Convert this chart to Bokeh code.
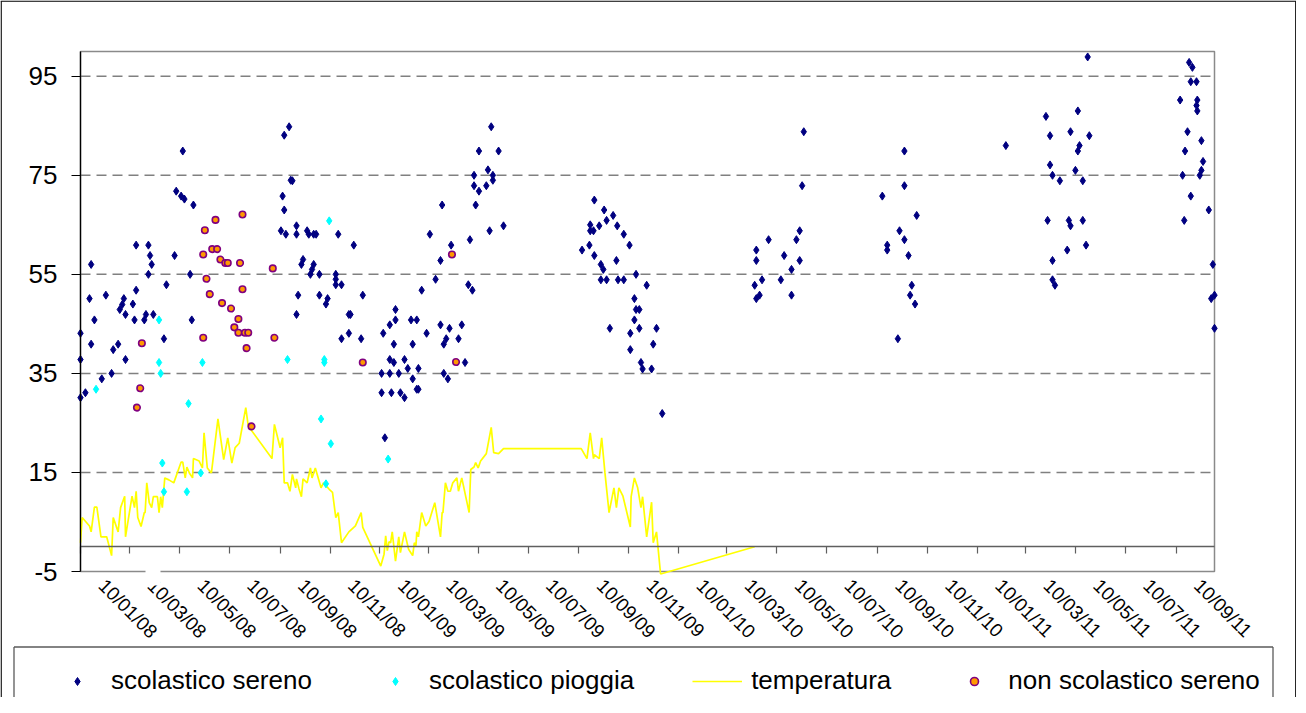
import math
import numpy as np
from bokeh.plotting import figure
from bokeh.models import (Range1d, FixedTicker, LinearAxis, Legend, LegendItem, ColumnDataSource, Grid)
from bokeh.embed import file_html
from bokeh.resources import INLINE

# ---------------- data ----------------
START = "2008-01-10"          # first day of the x axis; x values are days since START
AXIS_END_DAY = 1386           # last day of the x axis
Y_MIN, Y_MAX = -5, 100

tick_dates = ["2008-01-10", "2008-03-10", "2008-05-10", "2008-07-10", "2008-09-10",
              "2008-11-10", "2009-01-10", "2009-03-10", "2009-05-10", "2009-07-10",
              "2009-09-10", "2009-11-10", "2010-01-10", "2010-03-10", "2010-05-10",
              "2010-07-10", "2010-09-10", "2010-11-10", "2011-01-10", "2011-03-10",
              "2011-05-10", "2011-07-10", "2011-09-10"]
tick_labels = ["10/01/08", "10/03/08", "10/05/08", "10/07/08", "10/09/08", "10/11/08",
               "10/01/09", "10/03/09", "10/05/09", "10/07/09", "10/09/09", "10/11/09",
               "10/01/10", "10/03/10", "10/05/10", "10/07/10", "10/09/10", "10/11/10",
               "10/01/11", "10/03/11", "10/05/11", "10/07/11", "10/09/11"]
y_ticks = [-5, 15, 35, 55, 75, 95]

sereno_day = [0, 0, 0, 6, 13, 11, 17, 13, 26, 31, 38, 40, 46, 55, 48, 51, 53, 55, 64, 66,
              68, 68, 83, 85, 87, 83, 78, 80, 89, 105, 102, 115, 125, 117, 123, 127, 138, 134, 136,
              249, 255, 257, 259, 247, 249, 245, 251, 264, 264, 277, 279, 285, 288, 315, 334,
              272, 270, 285, 283, 281, 292, 312, 312, 312, 319, 266, 292, 302, 300, 264, 328,
              330, 328, 319, 343, 345,
              370, 378, 385, 385, 383, 378, 383, 396, 400, 368, 378, 389, 406, 413, 368, 380,
              391, 396, 411, 413, 372, 404, 411, 406, 423, 417, 434, 440, 453, 427, 442, 440,
              451, 447, 444, 462, 466, 444, 449, 470, 474, 479, 476, 500, 517, 483, 481, 487,
              481, 496, 498, 504, 504, 487, 511, 502,
              628, 640, 651, 643, 623, 634, 623, 627, 656, 664, 613, 622, 628, 671, 636, 639,
              636, 643, 655, 657, 664, 679, 692, 677, 679, 683, 677, 647, 672, 683, 704, 700,
              672, 685, 687, 698, 711,
              826, 841, 826, 824, 833, 826, 830, 856, 860, 869, 869, 875, 879, 879, 882, 884,
              980, 1007, 1007, 1022, 1001, 1007, 986, 986, 1012, 1016, 1014, 1020, 999,
              1131,
              1180, 1185, 1219, 1210, 1233, 1221, 1219, 1185, 1188, 1197, 1216, 1225, 1182, 1208,
              1210, 1225, 1206, 1229, 1188, 1188, 1191, 1231,
              1355, 1359, 1357, 1364, 1344, 1365, 1364, 1365, 1353, 1370, 1350, 1372, 1370, 1347,
              1368, 1357, 1379, 1349, 1384, 1382, 1386, 1386]
sereno_val = [43.1, 37.8, 30.1, 31.1, 57.0, 50.1, 45.8, 40.9, 33.9, 50.8, 35.0, 39.8, 40.9, 37.8,
              47.9, 48.9, 50.1, 46.9, 49.0, 45.8, 51.8, 60.9, 60.9, 58.8, 57.0, 55.0, 45.8, 46.9,
              46.9, 52.9, 42.0, 58.8, 79.9, 71.8, 70.8, 70.2, 69.0, 55.0, 45.8,
              83.1, 84.8, 74.0, 73.9, 70.8, 68.0, 63.8, 63.1, 64.8, 63.1, 63.8, 63.1, 63.1, 63.1,
              63.1, 60.9, 58.0, 57.0, 57.0, 56.0, 55.0, 55.0, 55.0, 54.0, 52.9, 52.9, 50.8, 50.8,
              50.1, 49.0, 46.9, 46.9, 46.9, 43.1, 42.0, 42.0, 50.8,
              43.1, 44.8, 45.8, 47.9, 40.9, 37.8, 37.2, 37.8, 36.0, 35.0, 35.0, 35.0, 33.9, 36.0,
              31.1, 31.1, 31.1, 30.1, 31.8, 31.8, 22.0, 45.8, 45.8, 40.9, 43.1, 51.8, 54.0, 57.8,
              60.9, 63.1, 69.0, 44.8, 44.1, 42.0, 40.9, 42.0, 44.8, 35.0, 33.9, 37.2, 52.9, 51.8,
              62.0, 63.8, 64.8, 69.0, 72.9, 71.8, 75.0, 72.9, 76.1, 75.0, 74.0, 79.9, 79.9, 84.8,
              70.0, 68.0, 66.9, 65.9, 65.0, 64.8, 63.8, 63.8, 64.8, 63.1, 59.9, 60.9, 58.8, 60.9,
              57.0, 56.0, 53.9, 53.9, 57.8, 53.9, 53.9, 55.0, 52.8, 50.1, 47.9, 47.9, 45.8, 44.1,
              43.1, 44.1, 44.1, 40.9, 39.8, 37.2, 35.9, 35.9, 26.9,
              59.9, 62.0, 57.8, 52.8, 53.9, 50.1, 50.8, 53.9, 58.8, 56.0, 50.8, 62.0, 63.8, 57.8,
              72.9, 83.8,
              70.8, 79.9, 72.9, 66.9, 63.8, 62.0, 60.9, 59.9, 58.8, 52.8, 50.8, 49.0, 42.0,
              81.0,
              86.9, 83.0, 88.0, 83.8, 83.0, 81.0, 79.9, 77.1, 75.0, 73.9, 76.0, 73.9, 65.9, 65.9,
              64.8, 65.9, 59.9, 60.9, 57.8, 53.9, 52.8, 98.9,
              97.8, 96.8, 93.9, 93.9, 90.2, 90.2, 89.1, 88.0, 83.8, 82.0, 79.9, 77.8, 76.0, 75.0,
              75.0, 70.8, 68.0, 65.9, 57.0, 50.1, 50.8, 44.1]

pioggia_day = [19, 96, 96, 98, 132, 149, 253, 298, 298, 304, 294, 306, 100, 102, 130, 147, 300, 376]
pioggia_val = [31.8, 45.8, 37.2, 35.0, 28.9, 37.2, 37.8, 37.8, 37.2, 65.8, 25.8, 20.8, 16.9, 11.1,
               11.1, 14.9, 12.7, 17.7]

non_sc_day = [152, 165, 198, 150, 161, 167, 171, 177, 180, 195, 154, 158, 198, 173, 184, 193,
              188, 193, 201, 205, 203, 150, 75, 73, 69, 209, 235, 237, 345, 454, 459]
non_sc_val = [63.9, 66.0, 67.1, 59.0, 60.1, 60.1, 58.0, 57.3, 57.3, 57.3, 54.1, 51.0, 52.0, 49.2,
              48.1, 46.0, 44.3, 43.2, 43.2, 43.2, 40.1, 42.2, 41.1, 32.0, 28.1, 24.3, 56.2, 42.2,
              37.2, 59.0, 37.3]

temp_day = [0, 2, 11, 13, 17, 20, 25, 32, 38, 40, 46, 49, 54, 55, 63, 66, 68, 70, 74, 78, 79, 81,
            84, 87, 89, 94, 96, 98, 100, 103, 108, 114, 123, 125, 128, 130, 133, 137, 138, 145,
            149, 151, 155, 160, 168, 175, 180, 185, 189, 194, 202, 205, 234, 237, 244, 247, 249,
            253, 256, 259, 263, 264, 267, 270, 272, 277, 281, 283, 287, 294, 297, 304, 308, 312,
            315, 319, 328, 336, 343, 345, 367, 371, 373, 375, 377, 379,
            381, 385, 389, 391, 396, 401, 406, 408, 410, 411, 413, 417, 422, 426, 433, 440, 442,
            443, 446, 449, 452, 455, 460, 462, 466, 475, 477, 481, 483, 486, 489, 496, 502, 505,
            511, 517, 612, 619, 623, 627, 628, 634, 637, 641, 646, 652, 655, 658, 663, 672, 673,
            677, 681, 685, 687, 692, 698, 700, 704, 709, 824]
temp_val = [0.8, 5.9, 4.2, 3.0, 8.0, 8.0, 2.0, 2.0, -1.8, 5.9, 3.0, 7.9, 10.2, 2.0, 10.2, 7.9,
            11.2, 5.9, 4.1, 6.9, 6.9, 12.9, 8.9, 7.9, 10.1, 10.1, 6.9, 10.1, 7.9, 13.9, 13.5, 12.9,
            17.1, 17.1, 13.9, 16.1, 14.9, 13.9, 17.8, 17.3, 15.9, 23.0, 15.9, 14.9, 25.8, 17.6,
            22.0, 16.9, 20.0, 20.9, 28.1, 24.4, 17.8, 24.7, 20.0, 22.0, 12.9, 12.9, 11.2, 14.6,
            11.9, 13.7, 11.7, 10.1, 13.7, 12.9, 15.9, 13.9, 15.9, 11.9, 12.9, 11.6, 11.0, 5.9, 6.9,
            0.8, 3.0, 4.2, 6.9, 3.9, -3.9, -1.5, 2.2, -0.8, 1.0, 0.8,
            3.0, -2.9, 2.0, -1.2, 3.0, -0.5, -1.8, 0.8, 0.2, 3.0, 2.0, 6.9, 4.2, 5.1, 8.9, 2.0,
            6.9, 6.9, 12.9, 11.2, 11.2, 12.9, 13.9, 11.2, 13.9, 6.9, 15.6, 16.1, 17.0, 15.9, 17.3,
            18.8, 24.1, 19.0, 18.8, 19.8, 19.8, 17.8, 23.0, 17.8, 18.6, 17.8, 22.0, 14.9, 6.9,
            11.9, 7.9, 11.9, 10.2, 4.0, 10.1, 13.9, 11.9, 7.9, 10.1, 2.0, 9.0, 0.8, 3.0, -5.5, 0.0]

series_labels = ["scolastico sereno", "scolastico pioggia", "temperatura", "non scolastico sereno"]

# ---------------- layout (canvas pixels) ----------------
W, H = 1296, 697
PLOT_L, PLOT_R, PLOT_T, PLOT_B = 80, 1214, 51, 571     # plot area inside the canvas
LEG_L, LEG_R, LEG_T = 13.5, 1272.5, 646.5               # legend box
FONT = "Liberation Sans"

DAY_MS = 86400000.0
START_MS = float((np.datetime64(START, "ms") - np.datetime64("1970-01-01", "ms")) / np.timedelta64(1, "ms"))


def day_ms(days):
    return START_MS + np.asarray(days, dtype=float) * DAY_MS


kx = (PLOT_R - PLOT_L) / AXIS_END_DAY          # px per day
ky = (PLOT_B - PLOT_T) / (Y_MAX - Y_MIN)       # px per unit
x_lo_day = -PLOT_L / kx
y_hi = Y_MAX + PLOT_T / ky
y_lo = Y_MIN - (H - PLOT_B) / ky


def cx(px):   # canvas px -> x data (ms)
    return float(day_ms(x_lo_day + px / kx))


def cy(py):   # canvas px -> y data
    return y_hi - py / ky


X0, X1 = float(day_ms(0)), float(day_ms(AXIS_END_DAY))
tick_ms = [float((np.datetime64(d, "ms") - np.datetime64("1970-01-01", "ms")) / np.timedelta64(1, "ms"))
           for d in tick_dates]
LABEL_SHIFT = 26 * DAY_MS          # Excel draws the slanted labels a little right of their tick
label_pos = [t + LABEL_SHIFT for t in tick_ms]

p = figure(width=W, height=H, x_range=Range1d(cx(0), cx(W)), y_range=Range1d(y_lo, y_hi),
           x_axis_location=None, y_axis_location=None,
           output_backend="svg", toolbar_location=None,
           min_border_left=0, min_border_right=0, min_border_top=0, min_border_bottom=0)
p.min_border = 0
p.outline_line_color = None
p.background_fill_color = "white"
p.border_fill_color = "white"
p.center = [r for r in p.center if not isinstance(r, Grid)]
for g in list(p.renderers):
    if isinstance(g, Grid):
        p.renderers.remove(g)

# outer chart border (top, left, right) and legend box (top, left, right)
p.segment(x0=[cx(0), cx(0.65), cx(W - 0.7)], y0=[cy(0.65), cy(0.65), cy(0.65)],
          x1=[cx(W), cx(0.65), cx(W - 0.7)], y1=[cy(0.65), cy(H + 5), cy(H + 5)],
          line_color="black", line_width=1.3)
p.segment(x0=[cx(LEG_L), cx(LEG_L), cx(LEG_R)], y0=[cy(LEG_T)] * 3,
          x1=[cx(LEG_R), cx(LEG_L), cx(LEG_R)], y1=[cy(LEG_T), cy(H + 5), cy(H + 5)],
          line_color="#5a5a5a", line_width=1.3)

# dashed gridlines and plot-area border
grid_y = [t for t in y_ticks if t > Y_MIN]
p.segment(x0=[X0] * len(grid_y), x1=[X1] * len(grid_y), y0=grid_y, y1=grid_y,
          line_color="#808080", line_width=1.5, line_dash="10 6")
p.quad(left=[X0], right=[X1], bottom=[Y_MIN], top=[Y_MAX], fill_color=None,
       line_color="#8a8a8a", line_width=1.5)

# ---------------- series ----------------
STYLE_TEMP = dict(line_color="#FFFF00", line_width=1.7)
STYLE_SER = dict(marker="diamond", size=8, fill_color="#000080", line_color="#000080", line_width=1)
STYLE_PIO = dict(marker="diamond", size=8, fill_color="#00FFFF", line_color="#00FFFF", line_width=1)
STYLE_NON = dict(marker="circle", size=6.5, fill_color="#FF9900", line_color="#800080", line_width=1.6)

src_temp = ColumnDataSource(dict(x=day_ms(temp_day), y=temp_val))
src_ser = ColumnDataSource(dict(x=day_ms(sereno_day), y=sereno_val))
src_pio = ColumnDataSource(dict(x=day_ms(pioggia_day), y=pioggia_val))
src_non = ColumnDataSource(dict(x=day_ms(non_sc_day), y=non_sc_val))

r_temp = p.line("x", "y", source=src_temp, **STYLE_TEMP)
r_pio = p.scatter("x", "y", source=src_pio, **STYLE_PIO)
r_ser = p.scatter("x", "y", source=src_ser, **STYLE_SER)
r_non = p.scatter("x", "y", source=src_non, **STYLE_NON)

# ---------------- axes ----------------
y_axis = LinearAxis(fixed_location=X0, bounds=(Y_MIN, Y_MAX), ticker=FixedTicker(ticks=y_ticks),
                    major_label_overrides={-5: "-5"},
                    axis_line_color="black", axis_line_width=1.3,
                    major_tick_in=0, major_tick_out=9, major_tick_line_color="black",
                    minor_tick_line_color=None,
                    major_label_text_font=FONT, major_label_text_font_size="26px",
                    major_label_text_color="black", major_label_standoff=14)
p.add_layout(y_axis, "left")

zero_axis = LinearAxis(fixed_location=0, bounds=(X0, X1), ticker=FixedTicker(ticks=tick_ms),
                       major_label_text_font_size="0px", major_label_text_alpha=0,
                       major_label_standoff=0, major_tick_in=0, major_tick_out=7,
                       minor_tick_line_color=None, axis_line_color="#5f5f5f",
                       major_tick_line_color="#5f5f5f", axis_line_width=1.5,
                       major_tick_line_width=1.2)
p.add_layout(zero_axis, "below")

label_axis = LinearAxis(fixed_location=Y_MIN, bounds=(X0, X1), ticker=FixedTicker(ticks=label_pos),
                        major_label_overrides={pos: lab for pos, lab in zip(label_pos, tick_labels)},
                        major_label_orientation=-math.pi / 4,
                        axis_line_color=None, major_tick_line_color=None, minor_tick_line_color=None,
                        major_label_text_font=FONT, major_label_text_font_size="19px",
                        major_label_text_color="black", major_label_standoff=5)
p.add_layout(label_axis, "below")

# small white patch that hides part of the first labels in the original picture
p.quad(left=[cx(145)], right=[cx(160)], top=[cy(569)], bottom=[cy(585)],
       fill_color="white", line_color=None, level="overlay")

# ---------------- legend ----------------
legend = Legend(items=[LegendItem(label=series_labels[0], renderers=[r_ser]),
                       LegendItem(label=series_labels[1], renderers=[r_pio]),
                       LegendItem(label=series_labels[2], renderers=[r_temp]),
                       LegendItem(label=series_labels[3], renderers=[r_non])],
                location=(52, 1), orientation="horizontal",
                glyph_width=50, glyph_height=20, label_standoff=9, spacing=58,
                padding=0, margin=0, border_line_alpha=0, background_fill_alpha=0,
                label_text_font=FONT, label_text_font_size="26px", label_text_color="black")
p.add_layout(legend)

open("out.html", "w").write(file_html(p, INLINE))
